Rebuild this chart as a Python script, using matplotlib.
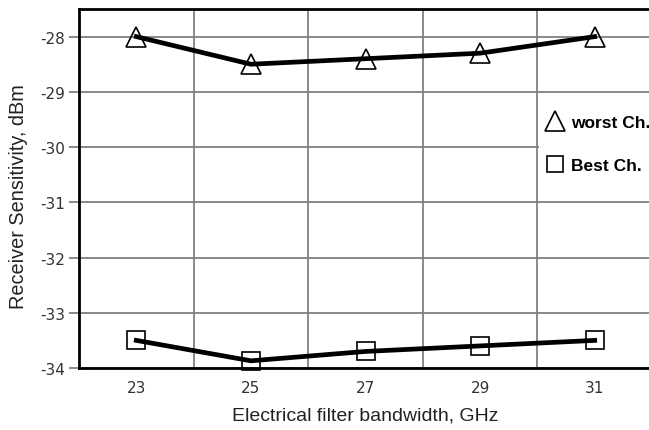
import matplotlib
matplotlib.use("Agg")
import matplotlib.pyplot as plt
from matplotlib.lines import Line2D
import numpy as np

# data
bandwidth = ["23", "25", "27", "29", "31"]
worst_ch = [-28.0, -28.5, -28.4, -28.3, -28.0]
best_ch = [-33.5, -33.87, -33.7, -33.6, -33.5]
y_ticks = [-28, -29, -30, -31, -32, -33, -34]

W, H = 649, 431
fig = plt.figure(figsize=(W / 100, H / 100), dpi=100)
ax = fig.add_axes([79 / W, (H - 369) / H, (652 - 79) / W, (369 - 10) / H])

x = np.arange(len(bandwidth))
ax.plot(x, worst_ch, color="black", lw=3.4, marker="^", ms=14,
        mfc="none", mec="black", mew=1.2, zorder=3, clip_on=False)
ax.plot(x, best_ch, color="black", lw=3.4, marker="s", ms=13,
        mfc="none", mec="black", mew=1.2, zorder=3, clip_on=False)

ax.set_xlim(-0.5, len(bandwidth) - 0.5)
ax.set_ylim(-34, -27.5)

ax.set_xticks(x)
ax.set_xticklabels(bandwidth, family="DejaVu Sans", fontsize=11, color="#333333")
ax.set_xticks(x[:-1] + 0.5, minor=True)
ax.set_yticks(y_ticks)
ax.set_yticklabels([str(v) for v in y_ticks], family="DejaVu Sans",
                   fontsize=11, color="#333333")

ax.tick_params(axis="x", which="both", length=0, pad=9)
ax.tick_params(axis="y", length=7, width=1.3, color="#808080", pad=3)

ax.grid(True, axis="y", which="major", color="#808080", lw=1.3)
ax.grid(True, axis="x", which="minor", color="#808080", lw=1.3)
ax.set_axisbelow(True)

for side in ["left", "bottom", "top"]:
    ax.spines[side].set_color("black")
    ax.spines[side].set_linewidth(2.0)
ax.spines["right"].set_visible(False)

ax.set_xlabel("Electrical filter bandwidth, GHz", family="Liberation Sans",
              fontsize=14, color="#222222", labelpad=8)
ax.set_ylabel("Receiver Sensitivity, dBm", family="Liberation Sans",
              fontsize=14.3, color="#222222")
ax.yaxis.set_label_coords((28 - 79) / 573, (369 - 197) / 359)

handles = [
    Line2D([], [], ls="none", marker="^", ms=15, mfc="none", mec="black", mew=1.2),
    Line2D([], [], ls="none", marker="s", ms=11.5, mfc="none", mec="black", mew=1.2),
]
leg = ax.legend(handles, ["worst Ch.", "Best Ch."], loc="upper left",
                bbox_to_anchor=((539 - 79) / 573, (369 - 108) / 359),
                bbox_transform=ax.transAxes, frameon=True, fancybox=False,
                framealpha=1, edgecolor="none", facecolor="white",
                handlelength=1.0, handletextpad=0.4, labelspacing=1.6,
                borderpad=0.45, borderaxespad=0.0,
                prop={"family": "Liberation Sans", "weight": "bold", "size": 12.5})
leg.set_zorder(5)

fig.savefig("out.png", dpi=100)
